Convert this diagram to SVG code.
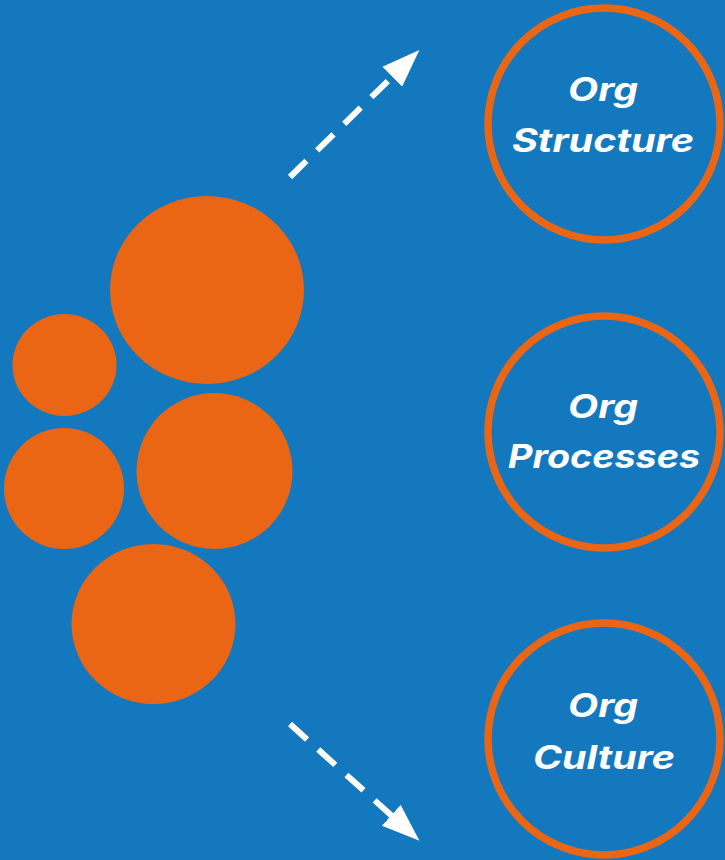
<svg xmlns="http://www.w3.org/2000/svg" width="725" height="860" viewBox="0 0 725 860">
  <style>
    .blob { fill: #ea6614; }
    .ring { fill: none; stroke: #ea6614; stroke-width: 7.5; }
    .label { font-family: Inter, "Open Sans", "Liberation Sans", sans-serif; font-weight: 700; font-style: italic; font-size: 32px; fill: #ffffff; text-anchor: middle; }
    .link { fill: none; stroke: #ffffff; stroke-width: 6; stroke-dasharray: 23 15; }
  </style>
  <defs>
    <marker id="head" markerUnits="userSpaceOnUse" viewBox="0 0 38 28" markerWidth="38" markerHeight="28" refX="1" refY="14" orient="auto">
      <path d="M0,0 L38,14 L0,28 z" fill="#ffffff"/>
    </marker>
  </defs>

  <rect width="725" height="860" fill="#1478be"/>

  <!-- cluster of orange circles -->
  <g id="cluster">
    <ellipse class="blob" cx="207" cy="290" rx="97" ry="94"/>
    <ellipse class="blob" cx="64.5" cy="365" rx="52" ry="51"/>
    <ellipse class="blob" cx="64" cy="488.5" rx="60" ry="60.5"/>
    <ellipse class="blob" cx="214.5" cy="471" rx="78" ry="78"/>
    <ellipse class="blob" cx="153.5" cy="624" rx="82" ry="80"/>
  </g>

  <!-- dashed arrows -->
  <g id="connectors">
    <path class="link" d="M290,177 L393,76" marker-end="url(#head)"/>
    <path class="link" d="M290,724 L392,816" marker-end="url(#head)"/>
  </g>

  <!-- labelled rings; textLength widens the glyphs to the wide display face -->
  <g id="org-structure">
    <circle class="ring" cx="604" cy="124" r="116"/>
    <text class="label" x="603" y="101" textLength="70" lengthAdjust="spacingAndGlyphs">Org</text>
    <text class="label" x="603" y="152" textLength="182" lengthAdjust="spacingAndGlyphs">Structure</text>
  </g>

  <g id="org-processes">
    <circle class="ring" cx="604" cy="432" r="116"/>
    <text class="label" x="603" y="418" textLength="70" lengthAdjust="spacingAndGlyphs">Org</text>
    <text class="label" x="604" y="468" textLength="192" lengthAdjust="spacingAndGlyphs">Processes</text>
  </g>

  <g id="org-culture">
    <circle class="ring" cx="604" cy="739" r="116"/>
    <text class="label" x="603" y="717" textLength="70" lengthAdjust="spacingAndGlyphs">Org</text>
    <text class="label" x="604" y="769" textLength="142" lengthAdjust="spacingAndGlyphs">Culture</text>
  </g>
</svg>
